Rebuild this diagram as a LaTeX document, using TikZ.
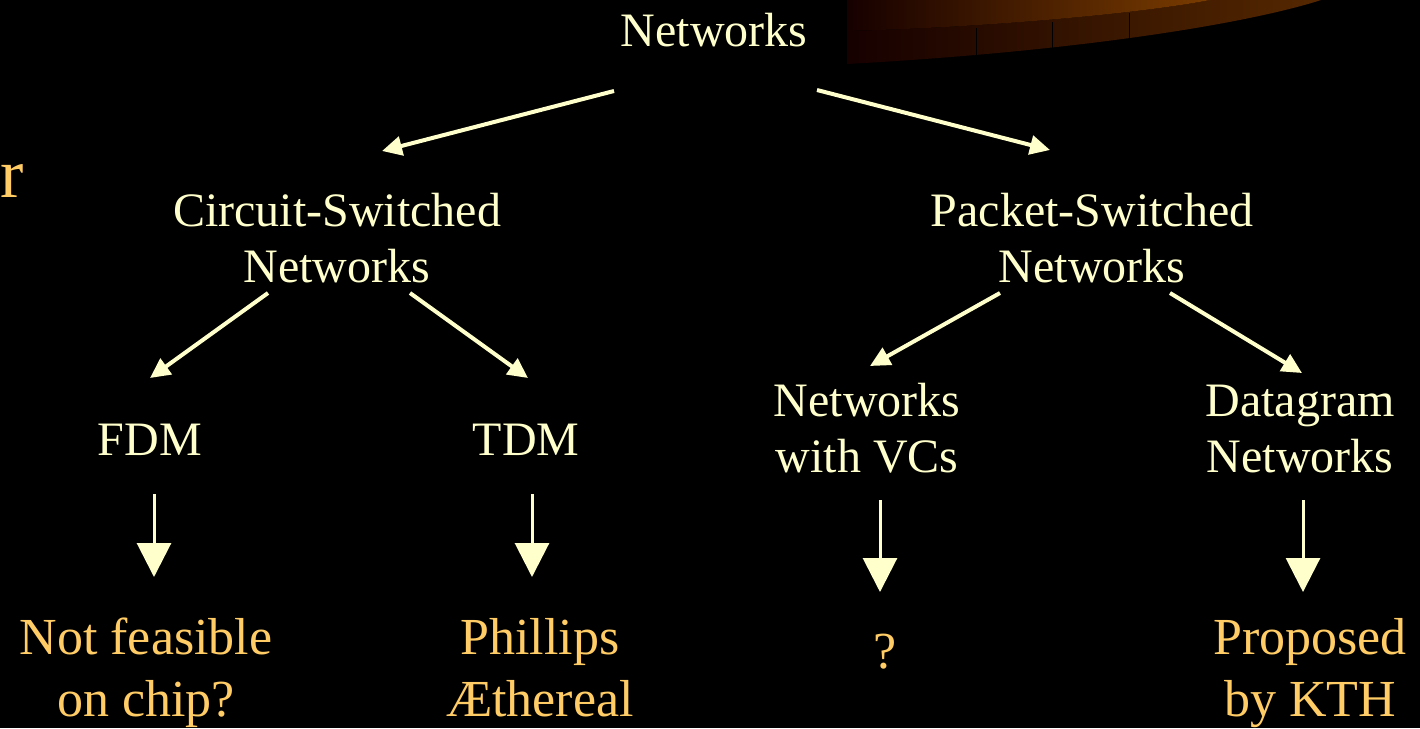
\documentclass[tikz,border=0pt]{standalone}
\usepackage{fontspec}
\setmainfont{Liberation Serif}
\usetikzlibrary{arrows.meta}
\definecolor{pale}{HTML}{FFFFCC}
\definecolor{gold}{HTML}{FFCC66}
\definecolor{bandA}{HTML}{7A3C00}
\definecolor{bandB}{HTML}{552800}
\definecolor{bandL}{HTML}{160000}
\tikzset{
  lbl/.style={text=pale, font=\fontsize{48}{56}\selectfont, align=center, inner sep=0pt, anchor=base},
  res/.style={text=gold, font=\fontsize{52}{62}\selectfont, align=center, inner sep=0pt, anchor=base},
  branch/.style={draw=pale, line width=4pt, -{Triangle[length=20pt,width=19pt]}},
  down/.style={draw=pale, line width=3pt, -{Triangle[length=34pt,width=34pt]}}
}
\begin{document}
\begin{tikzpicture}[x=1pt,y=-1pt]
\fill[black] (0,0) rectangle (1420,728);
\useasboundingbox (0,0) rectangle (1420,728);
\clip (0,0) rectangle (1420,728);
% decorative band top right
\shade[left color=bandL, right color=bandB]
  (847,31) .. controls (1000,27) and (1150,12) .. (1210,0) -- (1321,0)
  .. controls (1260,20) and (1100,50) .. (847,64) -- cycle;
\shade[left color=bandL, right color=bandA]
  (847,0) -- (847,31) .. controls (1000,27) and (1150,12) .. (1210,0) -- cycle;
\draw[black, line width=1pt] (976,28) -- (976,62) (1052,22) -- (1052,55) (1129,13) -- (1129,45);
% fragment at left edge
\node[text=gold, font=\fontsize{70}{80}\selectfont, inner sep=0pt, anchor=base east] (frag) at (24,197) {r};
% labels (base anchor = baseline of the last line)
\node[lbl] (top) at (714,46) {Networks};
\node[lbl] (cs) at (337,282) {Circuit-Switched\\Networks};
\node[lbl] (ps) at (1092,282) {Packet-Switched\\Networks};
\node[lbl] (fdm) at (150,455) {FDM};
\node[lbl] (tdm) at (526,455) {TDM};
\node[lbl] (vc) at (867,472) {Networks\\with VCs};
\node[lbl] (dg) at (1300,472) {Datagram\\Networks};
\node[res] (nf) at (146,716) {Not feasible\\on chip?};
\node[res] (ph) at (540,716) {Phillips\\Æthereal};
\node[res] (q) at (885,668) {?};
\node[res] (kth) at (1310,716) {Proposed\\by KTH};
% connector ends
\coordinate (t1) at (614,91); \coordinate (t2) at (817,90);
\coordinate (cs0) at (382,151); \coordinate (ps0) at (1050,150);
\coordinate (cs1) at (268,293); \coordinate (cs2) at (410,293);
\coordinate (fdm0) at (150,378); \coordinate (tdm0) at (528,378);
\coordinate (ps1) at (1000,293); \coordinate (ps2) at (1170,293);
\coordinate (vc0) at (870,366); \coordinate (dg0) at (1302,373);
\coordinate (fdm1) at (154,494); \coordinate (nf0) at (154,577);
\coordinate (tdm1) at (532,494); \coordinate (ph0) at (532,577);
\coordinate (vc1) at (880,500); \coordinate (q0) at (880,592);
\coordinate (dg1) at (1303,500); \coordinate (kth0) at (1303,592);
\draw[branch] (t1) -- (cs0);
\draw[branch] (t2) -- (ps0);
\draw[branch] (cs1) -- (fdm0);
\draw[branch] (cs2) -- (tdm0);
\draw[branch] (ps1) -- (vc0);
\draw[branch] (ps2) -- (dg0);
\draw[down] (fdm1) -- (nf0);
\draw[down] (tdm1) -- (ph0);
\draw[down] (vc1) -- (q0);
\draw[down] (dg1) -- (kth0);
\end{tikzpicture}
\end{document}
